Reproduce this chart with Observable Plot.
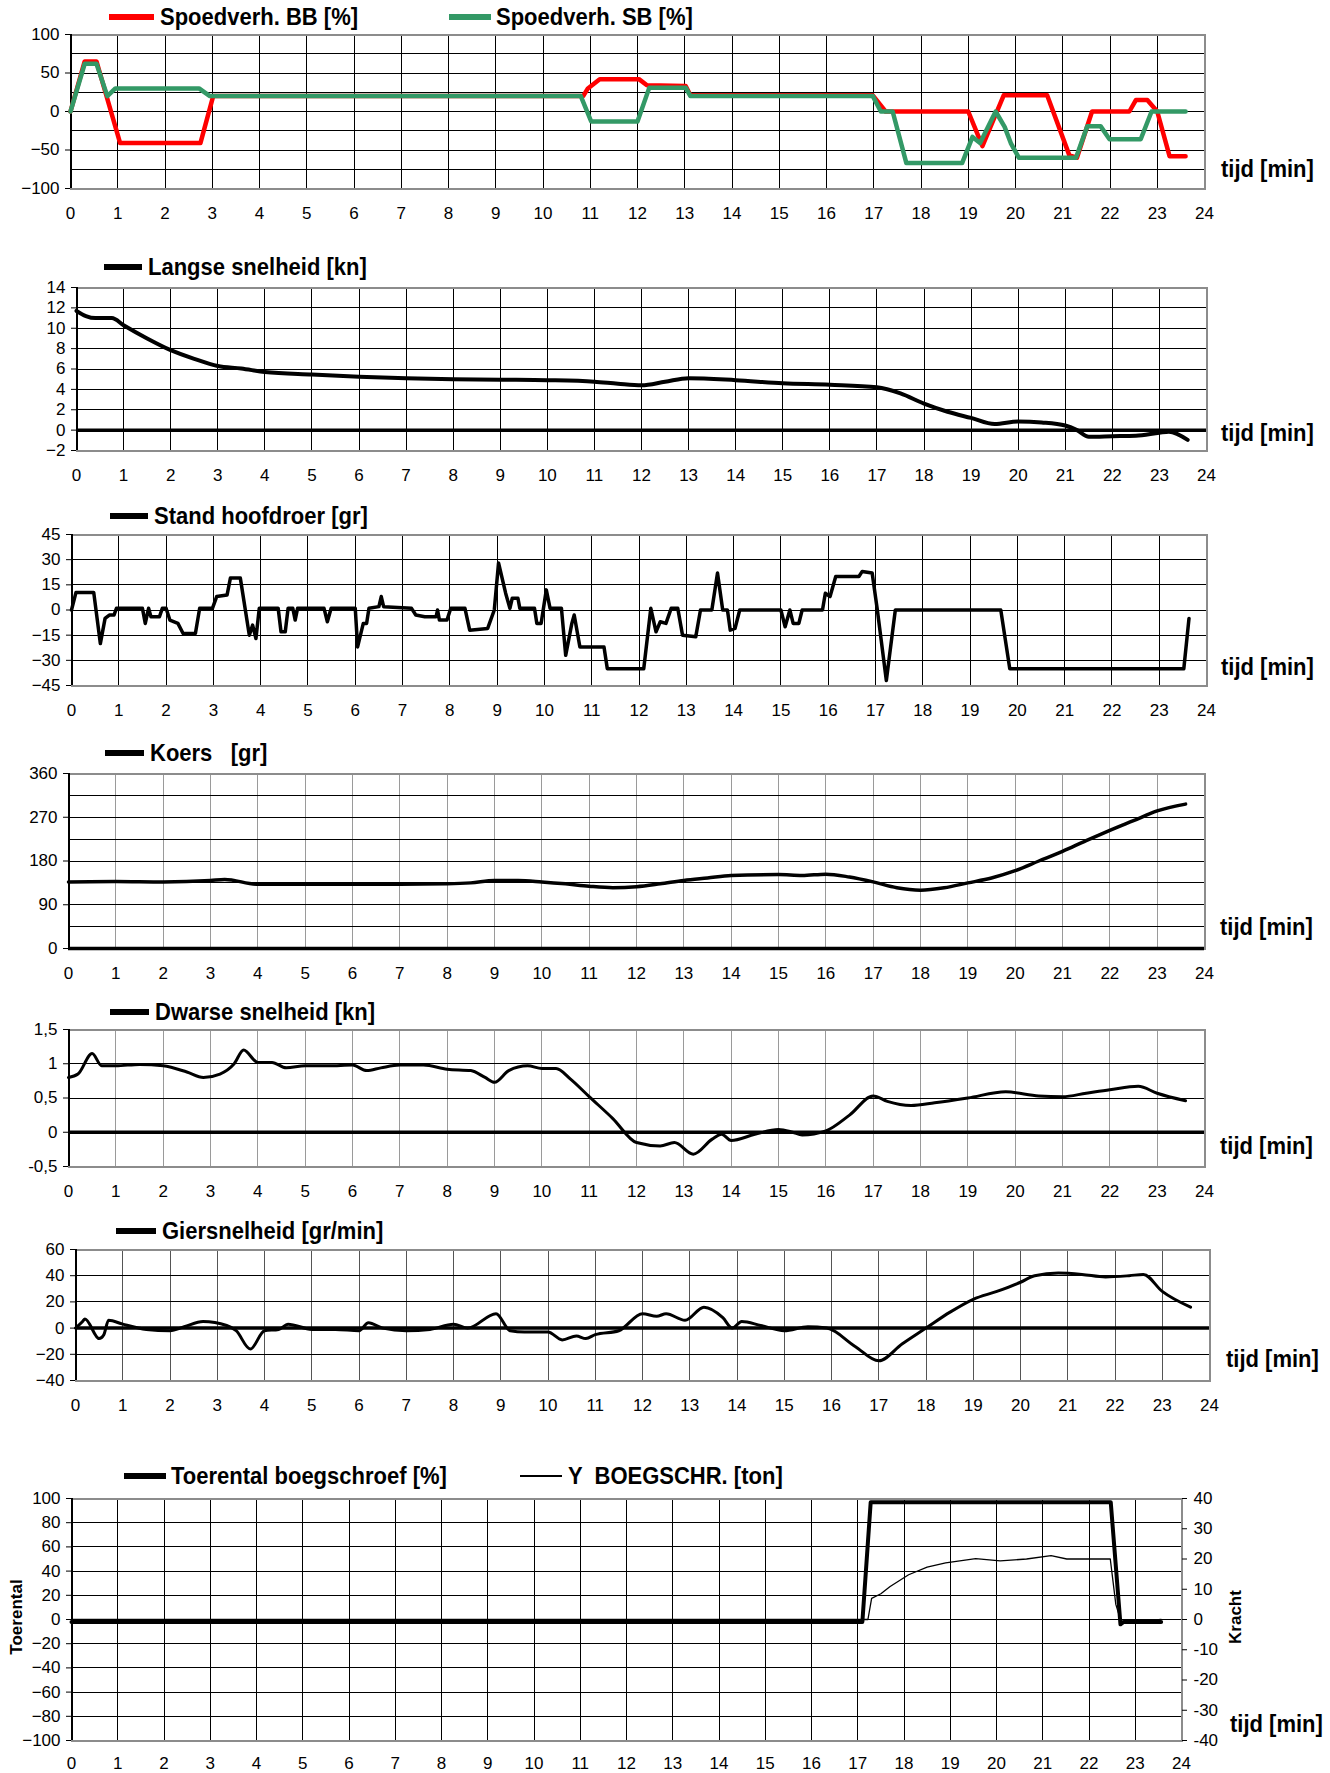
<!DOCTYPE html>
<html><head><meta charset="utf-8">
<script src="https://cdn.jsdelivr.net/npm/d3@7"></script>
<script src="https://cdn.jsdelivr.net/npm/@observablehq/plot@0.6"></script>
<style>
body{margin:0;background:#fff;}
#root{position:relative;width:1330px;height:1773px;overflow:hidden;background:#fff;}
.lg{position:absolute;font-family:'Liberation Sans',Arial,sans-serif;font-weight:bold;font-size:22px;white-space:pre;line-height:1;transform:translateY(-50%) scaleY(1.12);transform-origin:left center;color:#000;}
.sw{position:absolute;background:#000;transform:translateY(-50%);}
.vt{position:absolute;font-family:'Liberation Sans',Arial,sans-serif;font-weight:bold;font-size:17px;white-space:nowrap;line-height:1;transform:translate(-50%,-50%) rotate(-90deg);}
</style>
</head><body><div id="root"></div>
<script>
// ---------- DATA ----------
const hours = d3.range(0, 25);
// Panel 1: Spoedverh. BB / SB [%]
const bbTime = [0, 0.3, 0.55, 1.05, 2.75, 3.02, 10.85, 10.95, 11.2, 12.03, 12.2, 13.02, 13.12, 16.98, 17.25, 19.0, 19.3, 19.75, 20.67, 21.14, 21.3, 21.62, 22.41, 22.55, 22.79, 23.0, 23.26, 23.6];
const bbVal  = [0, 65, 65, -41, -41, 20, 20, 30, 42, 42, 34, 33, 21, 21, 0, 0, -45, 21, 21, -57, -60, 0, 0, 15, 15, 0, -58, -58];
const sbTime = [0, 0.3, 0.55, 0.78, 0.95, 2.72, 2.95, 10.8, 11.02, 12.0, 12.25, 13.02, 13.12, 16.98, 17.15, 17.4, 17.69, 18.87, 19.09, 19.25, 19.58, 19.77, 19.9, 20.07, 21.28, 21.52, 21.8, 21.99, 22.65, 22.88, 23.6];
const sbVal  = [0, 62, 62, 20, 30, 30, 20, 20, -13, -13, 31, 31, 20, 20, 0, 0, -67, -67, -33, -41, 0, -20, -41, -60, -60, -19, -19, -36, -36, 0, 0];
// Panel 2: Langse snelheid [kn]
const lsTime = [0, 0.2, 0.4, 0.75, 1, 1.5, 2, 2.5, 3, 3.5, 4, 5, 6, 7, 8, 9, 10, 11, 11.5, 12, 12.5, 13, 14, 15, 16, 17, 17.5, 18, 18.5, 19, 19.5, 20, 20.5, 21, 21.25, 21.5, 22, 22.5, 23, 23.2, 23.6];
const lsVal  = [11.7, 11.2, 11.0, 11.0, 10.3, 9.0, 7.85, 7.0, 6.3, 6.05, 5.7, 5.45, 5.25, 5.1, 5.0, 4.95, 4.9, 4.75, 4.55, 4.4, 4.75, 5.1, 4.9, 4.6, 4.45, 4.2, 3.6, 2.6, 1.8, 1.2, 0.6, 0.85, 0.75, 0.45, 0, -0.65, -0.6, -0.55, -0.25, -0.15, -0.95];
// Panel 3: Stand hoofdroer [gr]
const rdTime = [0, 0.095, 0.47, 0.61, 0.71, 0.8, 0.9, 0.95, 1.5, 1.56, 1.63, 1.68, 1.86, 1.92, 2.0, 2.08, 2.25, 2.36, 2.62, 2.71, 2.98, 3.07, 3.29, 3.36, 3.57, 3.76, 3.83, 3.9, 3.97, 4.37, 4.43, 4.52, 4.58, 4.68, 4.73, 4.78, 5.34, 5.41, 5.49, 6.0, 6.05, 6.17, 6.24, 6.29, 6.5, 6.55, 6.6, 7.19, 7.28, 7.47, 7.71, 7.74, 7.78, 7.94, 8.02, 8.32, 8.42, 8.8, 8.94, 9.03, 9.18, 9.27, 9.32, 9.44, 9.48, 9.79, 9.84, 9.93, 10.04, 10.12, 10.36, 10.45, 10.58, 10.63, 10.75, 11.26, 11.33, 12.1, 12.25, 12.36, 12.45, 12.57, 12.68, 12.82, 12.92, 13.2, 13.3, 13.54, 13.66, 13.77, 13.87, 13.93, 14.03, 14.13, 15.0, 15.09, 15.19, 15.26, 15.38, 15.45, 15.88, 15.94, 16.04, 16.16, 16.65, 16.72, 16.93, 17.04, 17.23, 17.42, 19.65, 19.84, 23.52, 23.63];
const rdVal  = [0, 10.5, 10.5, -20, -5, -3, -3, 1, 1, -8, 1, -4, -4, 1, 1, -6, -8, -14, -14, 1, 1, 8, 9, 19, 19, -15, -9, -17, 1, 1, -13, -13, 1, 1, -6, 1, 1, -7, 1, 1, -22, -8, -8, 1, 2, 8, 2, 1, -3, -4, -4, 0, -6, -6, 1, 1, -12, -11, 0, 28, 10, 1, 7, 7, 1, 1, -8, -8, 12, 1, 1, -27, -8, -3, -22, -22, -35, -35, 1, -13, -7, -8, 1, 1, -15, -16, 0, 0, 22, 0, 0, -12, -11, 0, 0, -10, 0, -8, -8, 0, 0, 10, 8, 20, 20, 23, 22, 0, -42, 0, 0, -35, -35, -5];
// Panel 4: Koers [gr]
const krTime = [0, 1, 2, 3, 3.3, 4, 5, 6, 7, 8, 8.5, 9, 9.5, 10, 10.5, 11, 11.5, 12, 12.5, 13, 13.5, 14, 15, 15.5, 16, 16.5, 17, 17.5, 18, 18.5, 19, 19.5, 20, 20.5, 21, 21.5, 22, 22.5, 23, 23.6];
const krVal  = [137, 138, 137, 140, 142, 132, 132, 132, 132, 133, 135, 140, 140, 137, 133, 128, 125, 127, 133, 140, 145, 150, 152, 150, 153, 147, 137, 125, 120, 125, 135, 145, 160, 180, 200, 222, 243, 263, 283, 297];
// Panel 5: Dwarse snelheid [kn]
const dsTime = [0, 0.2, 0.5, 0.7, 1, 1.5, 2, 2.5, 2.85, 3.2, 3.5, 3.7, 4.0, 4.3, 4.6, 5, 5.5, 6, 6.3, 6.6, 7, 7.5, 8, 8.5, 8.8, 9, 9.3, 9.7, 10, 10.3, 10.6, 11, 11.5, 12, 12.5, 12.8, 13.2, 13.6, 13.8, 14, 14.5, 15, 15.3, 15.5, 16, 16.5, 17, 17.3, 17.8, 18.3, 19, 19.8, 20.5, 21, 21.5, 22, 22.6, 23, 23.6];
const dsVal  = [0.8, 0.85, 1.15, 0.97, 0.97, 0.99, 0.97, 0.88, 0.8, 0.85, 1.0, 1.2, 1.02, 1.02, 0.94, 0.97, 0.97, 0.98, 0.9, 0.94, 0.98, 0.98, 0.92, 0.9, 0.8, 0.73, 0.9, 0.97, 0.93, 0.93, 0.78, 0.52, 0.2, -0.15, -0.2, -0.15, -0.32, -0.1, -0.03, -0.12, -0.03, 0.04, 0.0, -0.04, 0.02, 0.25, 0.53, 0.45, 0.39, 0.43, 0.5, 0.59, 0.53, 0.52, 0.57, 0.62, 0.67, 0.57, 0.46];
// Panel 6: Giersnelheid [gr/min]
const gsTime = [0, 0.15, 0.2, 0.5, 0.6, 0.7, 1, 1.5, 2, 2.3, 2.7, 3.2, 3.4, 3.7, 4, 4.3, 4.5, 5, 5.5, 6, 6.2, 6.5, 7, 7.5, 8, 8.3, 8.9, 9.2, 9.5, 10, 10.3, 10.6, 10.8, 11, 11.5, 12, 12.3, 12.5, 12.9, 13.3, 13.7, 13.9, 14.1, 14.5, 15, 15.5, 15.9, 16.5, 17, 17.5, 18, 18.5, 19, 19.5, 20, 20.3, 20.8, 21.3, 21.8, 22.3, 22.6, 23, 23.6];
const gsVal  = [0, 5, 7, -8, -5, 6, 3, -1, -2, 1, 5, 2, -2, -16, -2, -1, 3, -1, -1, -2, 4, 0, -2, -1, 3, 0, 11, -2, -3, -3, -9, -6, -8, -5, -2, 11, 9, 11, 6, 16, 8, 0, 5, 2, -2, 1, 0, -14, -25, -12, 0, 12, 22, 28, 35, 40, 42, 41, 39, 40, 41, 28, 16];
// Panel 7: Toerental boegschroef [%] and Y BOEGSCHR. [ton]
const btTime = [0, 17.1, 17.28, 22.47, 22.68, 22.75, 23.56];
const btVal  = [-2, -2, 97, 97, -4, -2, -2];
const byTime = [0, 17.22, 17.3, 17.5, 17.7, 18.1, 18.5, 18.9, 19.55, 20.08, 20.65, 21.18, 21.52, 22.46, 22.58, 22.7, 23.56];
const byVal  = [0, 0, 7, 8.5, 10.9, 14.8, 17.3, 18.7, 20.1, 19.4, 20, 21.1, 20, 20, 5, -1, 0];
const tonTicks = [-40, -30, -20, -10, 0, 10, 20, 30, 40];

// ---------- DRAWING ----------
const root = document.getElementById("root");
const FONT = "'Liberation Sans',Arial,sans-serif";

function legend(y, items) {
  for (const it of items) {
    const sw = document.createElement("div");
    sw.className = "sw";
    sw.style.left = it.x1 + "px"; sw.style.width = (it.x2 - it.x1) + "px";
    sw.style.top = y + "px"; sw.style.height = (it.h || 6) + "px";
    sw.style.background = it.color || "#000";
    root.appendChild(sw);
    const tx = document.createElement("div");
    tx.className = "lg"; tx.style.left = it.tx + "px"; tx.style.top = y + "px";
    tx.textContent = it.text;
    root.appendChild(tx);
  }
}
function tijd(x, y) {
  const tx = document.createElement("div");
  tx.className = "lg"; tx.style.left = x + "px"; tx.style.top = y + "px";
  tx.textContent = "tijd [min]";
  root.appendChild(tx);
}
function vlabel(x, y, text) {
  const tx = document.createElement("div");
  tx.className = "vt"; tx.style.left = x + "px"; tx.style.top = y + "px";
  tx.textContent = text;
  root.appendChild(tx);
}

function panel({L, R, T, B, yDomain, yGrid, yTicks, yFmt, marks, vGrid = "#000", zero = false, extra = [], mb = 40, xPad = 18}) {
  const mt = 12;
  const svg = Plot.plot({
    width: 1330, height: (B - T) + mt + mb,
    marginLeft: L, marginRight: 1330 - R, marginTop: mt, marginBottom: mb,
    style: {fontFamily: FONT, fontSize: "17px", color: "#000", background: "transparent", overflow: "visible"},
    x: {domain: [0, 24], axis: null},
    y: {domain: yDomain, axis: null},
    marks: [
      Plot.gridX(hours, {stroke: vGrid, strokeOpacity: 1, strokeWidth: 1, shapeRendering: "crispEdges"}),
      Plot.gridY(yGrid, {stroke: "#000", strokeOpacity: 1, strokeWidth: 1, shapeRendering: "crispEdges"}),
      Plot.frame({stroke: "#8c8c8c", strokeWidth: 2, shapeRendering: "crispEdges"}),
      zero ? Plot.ruleY([0], {stroke: "#000", strokeWidth: 3.5}) : null,
      Plot.ruleX([0], {stroke: "#000", strokeWidth: 2, shapeRendering: "crispEdges"}),
      Plot.axisX(hours, {tickSize: 0, tickPadding: xPad, label: null, fontSize: 17}),
      Plot.axisY(yTicks, {tickSize: 5, tickPadding: 6, label: null, tickFormat: yFmt, fontSize: 17}),
      ...extra,
      ...marks
    ]
  });
  svg.style.position = "absolute"; svg.style.left = "0px"; svg.style.top = (T - mt) + "px";
  root.appendChild(svg);
}

// Panel 1
legend(17, [
  {x1: 109, x2: 154, tx: 160, text: "Spoedverh. BB [%]", color: "#ff0000"},
  {x1: 449, x2: 491, tx: 496, text: "Spoedverh. SB [%]", color: "#339966"}
]);
panel({L: 70, R: 1204, T: 34, B: 188, yDomain: [-100, 100], yGrid: d3.range(-100, 101, 25), yTicks: [-100, -50, 0, 50, 100],
  marks: [
    Plot.line(bbTime, {x: bbTime, y: bbVal, stroke: "#ff0000", strokeWidth: 4.5}),
    Plot.line(sbTime, {x: sbTime, y: sbVal, stroke: "#339966", strokeWidth: 4.5})
  ]});
tijd(1221, 169);

// Panel 2
legend(267, [{x1: 104, x2: 142, tx: 148, text: "Langse snelheid [kn]"}]);
panel({L: 76, R: 1206, T: 287, B: 450, yDomain: [-2, 14], yGrid: d3.range(-2, 15, 2), yTicks: d3.range(-2, 15, 2), zero: true,
  marks: [Plot.line(lsTime, {x: lsTime, y: lsVal, stroke: "#000", strokeWidth: 4, curve: "monotone-x"})]});
tijd(1221, 433);

// Panel 3
legend(516, [{x1: 110, x2: 148, tx: 154, text: "Stand hoofdroer [gr]"}]);
panel({L: 71, R: 1206, T: 534, B: 685, yDomain: [-45, 45], yGrid: d3.range(-45, 46, 15), yTicks: d3.range(-45, 46, 15),
  marks: [Plot.line(rdTime, {x: rdTime, y: rdVal, stroke: "#000", strokeWidth: 3.5})]});
tijd(1221, 667);

// Panel 4
legend(753, [{x1: 105, x2: 144, tx: 150, text: "Koers   [gr]"}]);
panel({L: 68, R: 1204, T: 773, B: 948, yDomain: [0, 360], yGrid: d3.range(0, 361, 45), yTicks: [0, 90, 180, 270, 360], zero: true, vGrid: "#9a9a9a",
  marks: [Plot.line(krTime, {x: krTime, y: krVal, stroke: "#000", strokeWidth: 3.5, curve: "monotone-x"})]});
tijd(1220, 927);

// Panel 5
legend(1012, [{x1: 110, x2: 149, tx: 155, text: "Dwarse snelheid [kn]"}]);
panel({L: 68, R: 1204, T: 1029, B: 1166, yDomain: [-0.5, 1.5], yGrid: d3.range(-0.5, 1.51, 0.5), yTicks: d3.range(-0.5, 1.51, 0.5),
  yFmt: d => String(d).replace(".", ","), zero: true, vGrid: "#9a9a9a",
  marks: [Plot.line(dsTime, {x: dsTime, y: dsVal, stroke: "#000", strokeWidth: 3, curve: "monotone-x"})]});
tijd(1220, 1146);

// Panel 6
legend(1231, [{x1: 116, x2: 156, tx: 162, text: "Giersnelheid [gr/min]"}]);
panel({L: 75, R: 1209, T: 1249, B: 1380, yDomain: [-40, 60], yGrid: d3.range(-40, 61, 20), yTicks: d3.range(-40, 61, 20), zero: true, vGrid: "#555",
  marks: [Plot.line(gsTime, {x: gsTime, y: gsVal, stroke: "#000", strokeWidth: 3, curve: "monotone-x"})]});
tijd(1226, 1359);

// Panel 7 (right axis: ton, 40 ton = 100 %)
legend(1476, [
  {x1: 124, x2: 166, tx: 171, text: "Toerental boegschroef [%]"},
  {x1: 520, x2: 562, tx: 568, text: "Y  BOEGSCHR. [ton]", h: 2}
]);
panel({L: 71, R: 1181, T: 1498, B: 1740, yDomain: [-100, 100], yGrid: d3.range(-100, 101, 20), yTicks: d3.range(-100, 101, 20), mb: 33, xPad: 16,
  extra: [Plot.axisY(tonTicks.map(t => t * 2.5), {anchor: "right", tickSize: 5, tickPadding: 7, label: null, tickFormat: d => d / 2.5, fontSize: 17})],
  marks: [
    Plot.line(byTime, {x: byTime, y: byVal.map(v => v * 2.5), stroke: "#000", strokeWidth: 1.3}),
    Plot.line(btTime, {x: btTime, y: btVal, stroke: "#000", strokeWidth: 4})
  ]});
vlabel(16, 1617, "Toerental");
vlabel(1235, 1617, "Kracht");
tijd(1230, 1724);
</script>
</body></html>
